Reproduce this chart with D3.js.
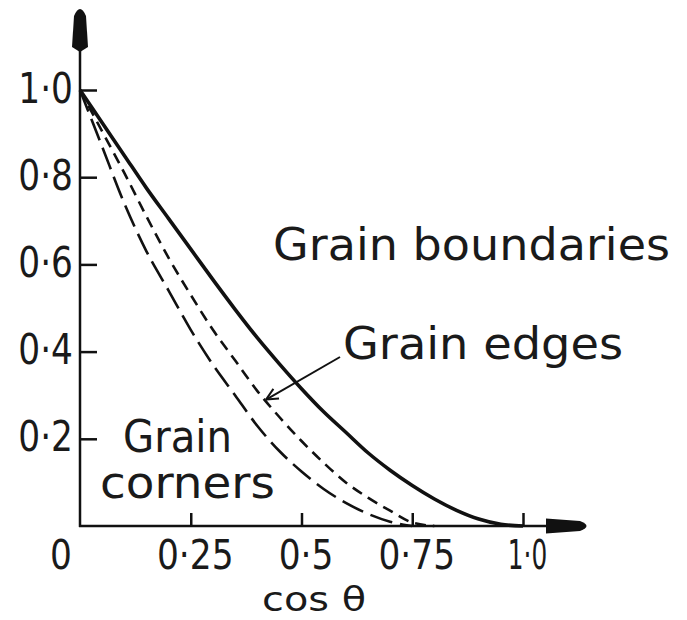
<!DOCTYPE html>
<html>
<head>
  <script src="https://cdn.jsdelivr.net/npm/d3@7/dist/d3.min.js" type="text/Javascript"></script>
  <title>Nucleation factor vs cos theta</title>
  <style>
    body { margin: 0; background: #fff; }
    text { font-family: "DejaVu Sans", sans-serif; fill: #1a1a1a; }
    .tick line { stroke: #111; stroke-width: 2.5px; }
  </style>
</head>
<body>
  <svg id="chart" width="687" height="620"></svg>
  <script type="text/Javascript">

    // values read off the picture, common x samples (cos theta)
    var cosTheta   = [0, 0.05, 0.1, 0.15, 0.2, 0.25, 0.3, 0.35, 0.4, 0.45, 0.5,
                      0.55, 0.6, 0.65, 0.7, 0.75, 0.8, 0.85, 0.9, 0.95, 1.0];
    var boundaries = [1.0, 0.925, 0.85, 0.775, 0.705, 0.635, 0.565, 0.497, 0.432, 0.372, 0.315,
                      0.262, 0.215, 0.168, 0.128, 0.093, 0.062, 0.036, 0.016, 0.004, 0];
    var edges      = [1.0, 0.905, 0.81, 0.71, 0.615, 0.53, 0.45, 0.38, 0.31, 0.25, 0.195,
                      0.145, 0.10, 0.065, 0.035, 0.008, 0, null, null, null, null];
    var corners    = [1.0, 0.87, 0.74, 0.63, 0.54, 0.45, 0.37, 0.30, 0.23, 0.172, 0.125,
                      0.085, 0.053, 0.028, 0.01, 0, null, null, null, null, null];

    var yTicks = [0.2, 0.4, 0.6, 0.8, 1.0];
    var xTicks = [0.25, 0.5, 0.75, 1.0];

    var svg = d3.select("#chart");

    var x = d3.scaleLinear().domain([0, 1]).range([80, 523]);
    var y = d3.scaleLinear().domain([0, 1]).range([526, 90]);

    function dot(d) { return (d === 1 ? "1.0" : String(d)).replace(".", "\u00b7"); }

    // squeeze text to look like the narrow stencil lettering
    function condense(sel, f) {
      sel.each(function() {
        var t = d3.select(this);
        t.attr("textLength", this.getComputedTextLength() * f).attr("lengthAdjust", "spacingAndGlyphs");
      });
    }

    // axes lines + arrow heads
    var x0 = x(0), y0 = y(0);
    svg.append("line").attr("x1", x0).attr("y1", y0 + 1).attr("x2", x0).attr("y2", 48)
      .style("stroke", "#111").style("stroke-width", "2.5px");
    svg.append("path")
      .attr("d", "M" + x0 + ",52 L" + (x0 - 8) + ",47 L" + (x0 - 6) + ",16 Q" + x0 + ",2 " + (x0 + 6) + ",16 L" + (x0 + 8) + ",47 Z")
      .style("fill", "#111");
    svg.append("line").attr("x1", x0 - 1).attr("y1", y0).attr("x2", 550).attr("y2", y0)
      .style("stroke", "#111").style("stroke-width", "2.5px");
    svg.append("path")
      .attr("d", "M546," + (y0 - 7.5) + " L580," + (y0 - 5) + " Q593," + y0 + " 580," + (y0 + 5) + " L546," + (y0 + 7.5) + " Z")
      .style("fill", "#111");

    var yAxis = svg.append("g").attr("transform", "translate(" + x0 + ",0)")
      .call(d3.axisLeft(y).tickValues(yTicks).tickSizeInner(-17).tickSizeOuter(0).tickFormat(dot));
    yAxis.select(".domain").remove();
    yAxis.selectAll(".tick text")
      .attr("x", -7).attr("dy", 0).attr("y", 12)
      .style("font-size", "43px").style("text-anchor", "end");
    condense(yAxis.selectAll(".tick text"), 0.8);

    var xAxis = svg.append("g").attr("transform", "translate(0," + y0 + ")")
      .call(d3.axisBottom(x).tickValues(xTicks).tickSizeInner(-13).tickSizeOuter(0).tickFormat(dot));
    xAxis.select(".domain").remove();
    xAxis.selectAll(".tick text")
      .attr("y", 43).attr("dy", 0).attr("x", 4)
      .style("font-size", "40px").style("text-anchor", "middle");
    xAxis.selectAll(".tick text").each(function(d) {
      condense(d3.select(this), d === 1 ? 0.62 : 0.86);
    });

    // the lone 0 at the origin
    svg.append("text").attr("x", x0 - 19).attr("y", y0 + 43)
      .style("font-size", "40px").style("text-anchor", "middle").text("0")
      .call(condense, 0.86);

    // curves
    function series(vals) {
      return cosTheta.map(function(c, i) { return [c, vals[i]]; });
    }
    var line = d3.line()
      .defined(function(d) { return d[1] != null; })
      .x(function(d) { return x(d[0]); })
      .y(function(d) { return y(d[1]); })
      .curve(d3.curveMonotoneX);

    svg.append("path").datum(series(corners)).attr("d", line)
      .style("fill", "none").style("stroke", "#111").style("stroke-width", "2.6px")
      .style("stroke-dasharray", "23,8");
    svg.append("path").datum(series(edges)).attr("d", line)
      .style("fill", "none").style("stroke", "#111").style("stroke-width", "2.6px")
      .style("stroke-dasharray", "11,7");
    svg.append("path").datum(series(boundaries)).attr("d", line)
      .style("fill", "none").style("stroke", "#111").style("stroke-width", "3.6px");

    // labels
    function label(txt, lx, ly, len, size) {
      svg.append("text").attr("x", lx).attr("y", ly)
        .attr("textLength", len).attr("lengthAdjust", "spacingAndGlyphs")
        .style("font-size", (size || 44) + "px").text(txt);
    }
    label("Grain boundaries", 273, 260, 397);
    label("Grain edges", 343, 359, 280);
    label("Grain", 123, 452, 109);
    label("corners", 100, 498, 175);
    label("cos \u03b8", 262, 611, 104, 34);

    // pointer from "Grain edges" to the dashed curve
    var tip = [x(0.42), y(0.29)];
    var tail = [340, 357];
    svg.append("line").attr("x1", tail[0]).attr("y1", tail[1]).attr("x2", tip[0]).attr("y2", tip[1])
      .style("stroke", "#111").style("stroke-width", "2px");
    var ang = Math.atan2(tail[1] - tip[1], tail[0] - tip[0]);
    [-0.45, 0.45].forEach(function(a) {
      svg.append("line").attr("x1", tip[0]).attr("y1", tip[1])
        .attr("x2", tip[0] + 13 * Math.cos(ang + a)).attr("y2", tip[1] + 13 * Math.sin(ang + a))
        .style("stroke", "#111").style("stroke-width", "2px");
    });
  </script>
</body>
</html>
